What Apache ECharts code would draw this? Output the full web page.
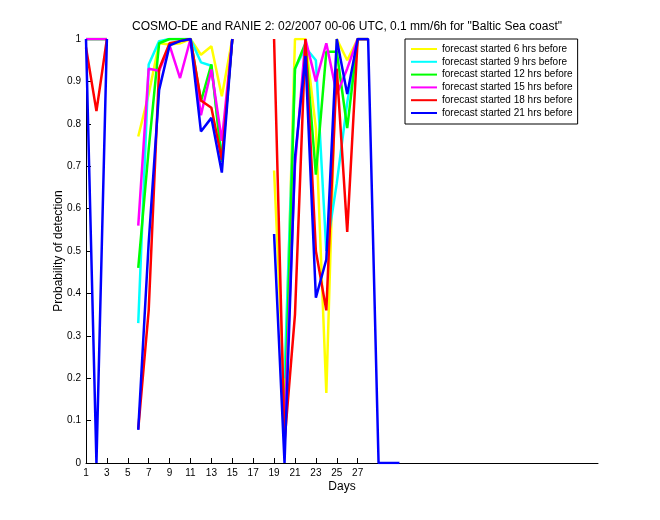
<!DOCTYPE html>
<html><head><meta charset="utf-8">
<script src="https://cdn.jsdelivr.net/npm/echarts@6/dist/echarts.min.js"></script>
<style>html,body{margin:0;padding:0;background:#fff}#c{width:660px;height:520px}</style>
</head><body><div id="c"></div>
<script>
const days = Array.from({length: 31}, (_, i) => i + 1);
const N = null;
// values per day 1..31 (null = no data)
const f6h  = [1,1,1,N,N,0.77,0.87,0.99,0.987,0.99,1,0.963,0.983,0.865,1,N,N,N,0.69,0.14,1,1,0.79,0.165,1,0.95,1,1,N,N,N];
const f9h  = [1,1,1,N,N,0.33,0.94,0.995,1,1,1,0.945,0.937,0.72,1,N,N,N,N,0.2,0.93,0.98,0.95,0.5,0.66,0.85,1,1,N,N,N];
const f12h = [1,1,1,N,N,0.46,0.74,0.99,1,1,1,0.853,0.94,0.71,1,N,N,N,N,0.09,0.93,0.99,0.68,0.97,0.97,0.79,1,1,N,N,N];
const f15h = [1,1,1,N,N,0.56,0.93,0.925,0.985,0.908,1,0.82,0.928,0.76,1,N,N,N,N,0.08,0.7,1,0.9,0.99,0.87,0.93,1,1,N,N,N];
const f18h = [0.98,0.83,1,N,N,0.08,0.36,0.93,0.99,0.995,1,0.855,0.838,0.715,1,N,N,N,1,0.05,0.35,1,0.5,0.36,0.93,0.545,1,1,N,N,N];
const f21h = [1,0,1,N,N,0.078,0.52,0.88,0.985,0.995,1,0.782,0.814,0.685,1,N,N,N,0.54,0,0.72,0.96,0.39,0.48,1,0.87,1,1,0,0,0];
const seriesNames = ['forecast started 6 hrs before','forecast started 9 hrs before','forecast started 12 hrs before','forecast started 15 hrs before','forecast started 18 hrs before','forecast started 21 hrs before'];
const seriesValues = [f6h, f9h, f12h, f15h, f18h, f21h];
const colors = ['#ffff00','#00ffff','#00ff00','#ff00ff','#ff0000','#0000ff'];
const xTicks = [1,3,5,7,9,11,13,15,17,19,21,23,25,27];
const yTicks = [0,0.1,0.2,0.3,0.4,0.5,0.6,0.7,0.8,0.9,1];
const titleText = 'COSMO-DE and RANIE 2: 02/2007 00-06 UTC, 0.1 mm/6h for "Baltic Sea coast"';

const FONT = 'Liberation Sans';
const chart = echarts.init(document.getElementById('c'), null, {renderer: 'canvas'});
chart.setOption({
  animation: false,
  backgroundColor: '#fff',
  title: {text: titleText, left: 342, top: 16, textAlign: 'center',
    textStyle: {fontFamily: FONT, fontSize: 12, fontWeight: 'normal', color: '#000'}},
  grid: {left: 86, right: 62, top: 39, bottom: 57, containLabel: false},
  legend: {orient: 'vertical', left: 405, top: 39, padding: [4, 5, 5, 6],
    borderColor: '#000', borderWidth: 1, backgroundColor: '#fff',
    itemWidth: 26, itemHeight: 2, itemGap: 0.8, icon: 'rect',
    textStyle: {fontFamily: FONT, fontSize: 10, lineHeight: 12, color: '#000'},
    data: seriesNames},
  xAxis: {type: 'value', min: 1, max: 50, name: 'Days', nameLocation: 'middle', nameGap: 18,
    nameMoveOverlap: false,
    nameTextStyle: {fontFamily: FONT, fontSize: 12, color: '#000'},
    axisLine: {lineStyle: {color: '#000', width: 1}},
    axisTick: {inside: true, length: 5, customValues: xTicks, lineStyle: {color: '#000'}},
    axisLabel: {customValues: xTicks, fontFamily: FONT, fontSize: 10, color: '#000', margin: 5},
    splitLine: {show: false}},
  yAxis: {type: 'value', min: 0, max: 1, name: 'Probability of detection', nameLocation: 'middle', nameGap: 21,
    nameMoveOverlap: false,
    nameTextStyle: {fontFamily: FONT, fontSize: 12, color: '#000'},
    axisLine: {show: true, lineStyle: {color: '#000', width: 1}},
    axisTick: {show: true, inside: true, length: 5, customValues: yTicks, lineStyle: {color: '#000'}},
    axisLabel: {customValues: yTicks, fontFamily: FONT, fontSize: 10, color: '#000', margin: 5,
      formatter: v => String(Math.round(v * 10) / 10)},
    splitLine: {show: false}},
  series: seriesValues.map((vals, i) => ({
    name: seriesNames[i], type: 'line', color: colors[i],
    data: days.map((d, j) => [d, vals[j] === null ? null : vals[j]]),
    showSymbol: false, connectNulls: false, smooth: false,
    lineStyle: {width: 2.5, color: colors[i]}, emphasis: {disabled: true}
  }))
});
</script></body></html>
